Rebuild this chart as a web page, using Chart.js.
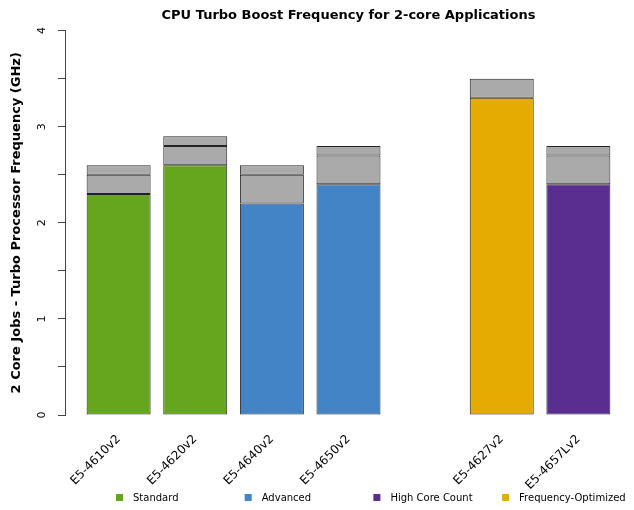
<!DOCTYPE html>
<html>
<head>
<meta charset="utf-8">
<script src="https://cdn.jsdelivr.net/npm/chart.js@4/dist/chart.umd.min.js"></script>
<style>
  body { margin: 0; background: #fff; }
  #wrap { width: 634px; height: 510px; }
</style>
</head>
<body>
<div id="wrap"><canvas id="myChart"></canvas></div>
<script>
// processors, '' marks the empty slot between the two groups
var cpus = ['E5-4610v2', 'E5-4620v2', 'E5-4640v2', 'E5-4650v2', '', 'E5-4627v2', 'E5-4657Lv2'];
var families = ['Standard', 'Standard', 'Advanced', 'Advanced', null, 'Frequency-Optimized', 'High Core Count'];
// 2-core turbo frequency (GHz): base part and the two grey steps on top
var baseFreq = [2.3, 2.6, 2.2, 2.4, null, 3.3, 2.4];
var turboMid = [2.5, 2.8, 2.5, 2.7, null, 3.5, 2.7];
var turboMax = [2.6, 2.9, 2.6, 2.8, null, 3.5, 2.8];
var yTicks = [0, 1, 2, 3, 4];

var legendNames = ['Standard', 'Advanced', 'High Core Count', 'Frequency-Optimized'];
var legendColors = ['#66a61e', '#4384c6', '#5a2d91', '#e6ab02'];

function familyColor(f) {
  return legendColors[legendNames.indexOf(f)];
}

// build {x, y} points, skipping the empty slot
function points(fn) {
  var out = [];
  cpus.forEach(function (c, i) {
    if (baseFreq[i] === null) return;
    out.push({ x: i + 1, y: fn(i) });
  });
  return out;
}

var barColors = [];
cpus.forEach(function (c, i) {
  if (baseFreq[i] !== null) barColors.push(familyColor(families[i]));
});

var barStyle = {
  borderColor: '#222222',
  borderWidth: 1,
  borderSkipped: false,
  barPercentage: 0.835,
  categoryPercentage: 1
};

// legend drawn as evenly spaced columns like the original
var bottomLegend = {
  id: 'bottomLegend',
  afterDraw: function (chart) {
    var ctx = chart.ctx;
    ctx.save();
    ctx.font = '10px "DejaVu Sans"';
    ctx.textBaseline = 'middle';
    ctx.textAlign = 'left';
    legendNames.forEach(function (name, i) {
      var x = 116 + i * 128.7;
      ctx.fillStyle = legendColors[i];
      ctx.fillRect(x, 494, 7, 7);
      ctx.fillStyle = '#000';
      ctx.fillText(name, x + 17, 498);
    });
    ctx.restore();
  }
};

var ctx = document.getElementById('myChart').getContext('2d');
var myChart = new Chart(ctx, {
  type: 'bar',
  data: {
    datasets: [
      Object.assign({ data: points(function (i) { return baseFreq[i]; }), backgroundColor: barColors }, barStyle),
      Object.assign({ data: points(function (i) { return turboMid[i] - baseFreq[i]; }), backgroundColor: '#aaaaaa' }, barStyle),
      Object.assign({ data: points(function (i) { return turboMax[i] - turboMid[i]; }), backgroundColor: '#aaaaaa' }, barStyle)
    ]
  },
  options: {
    responsive: true,
    maintainAspectRatio: false,
    animation: false,
    layout: { padding: { right: 2 } },
    plugins: {
      legend: { display: false },
      tooltip: { enabled: false },
      title: {
        display: true,
        fullSize: false,
        text: 'CPU Turbo Boost Frequency for 2-core Applications',
        color: '#000',
        font: { family: 'DejaVu Sans', size: 13, weight: 'bold' },
        padding: { top: 8, bottom: 7 }
      }
    },
    scales: {
      x: {
        type: 'linear',
        stacked: true,
        offset: false,
        min: 0.3,
        max: 7.7,
        grid: { display: false },
        border: { display: false },
        afterBuildTicks: function (scale) {
          scale.ticks = cpus.map(function (c, i) { return { value: i + 1 }; });
        },
        afterFit: function (scale) { scale.height = 95; },
        ticks: {
          autoSkip: false,
          minRotation: 45,
          maxRotation: 45,
          padding: 9,
          color: '#000',
          font: { family: 'DejaVu Sans', size: 12 },
          callback: function (v) { return cpus[v - 1]; }
        }
      },
      y: {
        stacked: true,
        min: 0,
        max: 4,
        grid: { drawOnChartArea: false, tickLength: 7, color: '#444' },
        border: { color: '#444' },
        afterFit: function (scale) { scale.width = 65; },
        ticks: {
          stepSize: 0.5,
          minRotation: 90,
          maxRotation: 90,
          crossAlign: 'center',
          padding: 12,
          color: '#000',
          font: { family: 'DejaVu Sans', size: 11 },
          callback: function (v) { return yTicks.indexOf(v) >= 0 ? String(v) : ''; }
        },
        title: {
          display: true,
          text: '2 Core Jobs - Turbo Processor Frequency (GHz)',
          color: '#000',
          font: { family: 'DejaVu Sans', size: 13, weight: 'bold' },
          padding: { top: 9, bottom: 0 }
        }
      }
    }
  },
  plugins: [bottomLegend]
});
</script>
</body>
</html>
